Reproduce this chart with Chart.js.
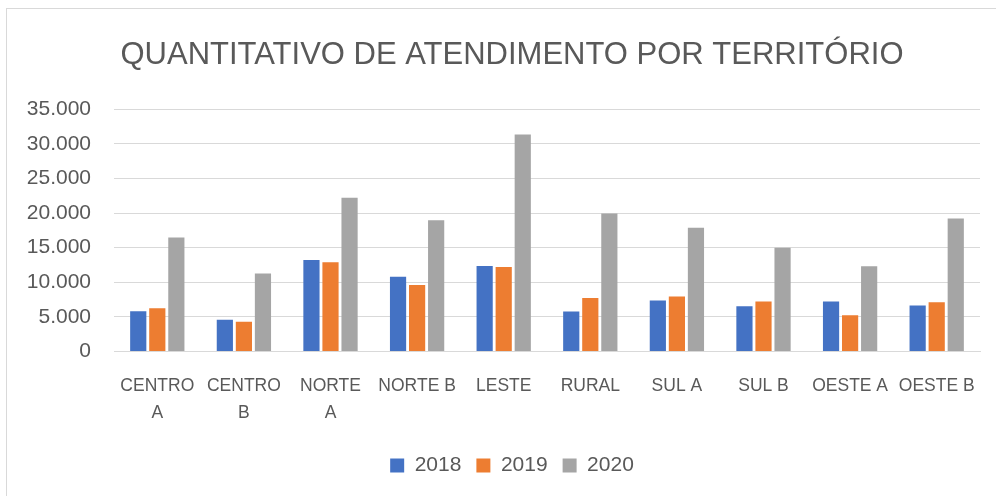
<!DOCTYPE html>
<html>
<head>
<meta charset="utf-8">
<script src="https://cdn.jsdelivr.net/npm/chart.js@4"></script>
<style>
  html, body { margin: 0; padding: 0; background: #fff; overflow: hidden; width: 996px; height: 496px; }
  #box { position: absolute; left: 6px; top: 8px; width: 1011px; height: 500px; border-left: 1px solid #d9d9d9; border-top: 1px solid #d9d9d9; box-sizing: border-box; }
  canvas { display: block; }
</style>
</head>
<body>
<div id="box"><canvas id="c"></canvas></div>
<script>
const categories = [["CENTRO","A"], ["CENTRO","B"], ["NORTE","A"], "NORTE B", "LESTE", "RURAL", "SUL A", "SUL B", "OESTE A", "OESTE B"];
const seriesNames = ["2018", "2019", "2020"];
const values2018 = [5800, 4600, 13200, 10800, 12350, 5770, 7350, 6540, 7210, 6630];
const values2019 = [6250, 4280, 12880, 9610, 12210, 7740, 7930, 7210, 5240, 7110];
const values2020 = [16450, 11250, 22200, 18950, 31350, 19950, 17880, 15000, 12300, 19220];
const yTicks = [0, 5000, 10000, 15000, 20000, 25000, 30000, 35000];

const colors = ["#4472C4", "#ED7D31", "#A5A5A5"];
const fontFam = "'Liberation Sans', sans-serif";
const txt = "#595959";

function fmt(v) { return String(v).replace(/\B(?=(\d{3})+(?!\d))/g, "."); }

const recenter = {
  id: 'recenter',
  afterLayout(chart) {
    [chart.titleBlock, chart.legend].forEach(b => {
      if (b) { b.left = 0; b.right = chart.width; b.width = chart.width; }
    });
  }
};

const cv = document.getElementById('c');
cv.width = 1010; cv.height = 484;
new Chart(cv, {
  type: 'bar',
  data: {
    labels: categories,
    datasets: [values2018, values2019, values2020].map((d, i) => ({
      label: seriesNames[i],
      data: d,
      backgroundColor: colors[i],
      borderWidth: 0,
      barPercentage: 0.85,
      categoryPercentage: 0.66
    }))
  },
  plugins: [recenter],
  options: {
    responsive: false,
    animation: false,
    layout: { padding: { left: 0, right: 37, top: 0, bottom: 7 } },
    plugins: {
      title: {
        display: true,
        text: 'QUANTITATIVO DE ATENDIMENTO POR TERRITÓRIO',
        color: txt,
        font: { family: fontFam, size: 31, weight: 'normal' },
        padding: { top: 28, bottom: 35 }
      },
      legend: {
        position: 'bottom',
        labels: { color: txt, font: { family: fontFam, size: 21 }, boxWidth: 14, boxHeight: 14, padding: 15 }
      },
      tooltip: { enabled: false }
    },
    scales: {
      x: {
        grid: { display: false },
        border: { color: '#d9d9d9', width: 1 },
        ticks: { color: txt, font: { family: fontFam, size: 17.5, lineHeight: 1.5 }, maxRotation: 0, autoSkip: false, padding: 14 }
      },
      y: {
        min: 0, max: 35000,
        afterBuildTicks: (ax) => { ax.ticks = yTicks.map(v => ({ value: v })); },
        afterFit: (ax) => { ax.width = 107; },
        grid: { color: '#d9d9d9', lineWidth: 1, drawTicks: false },
        border: { display: false },
        ticks: { color: txt, font: { family: fontFam, size: 21 }, padding: 23, callback: (v) => fmt(v) }
      }
    }
  }
});
</script>
</body>
</html>
